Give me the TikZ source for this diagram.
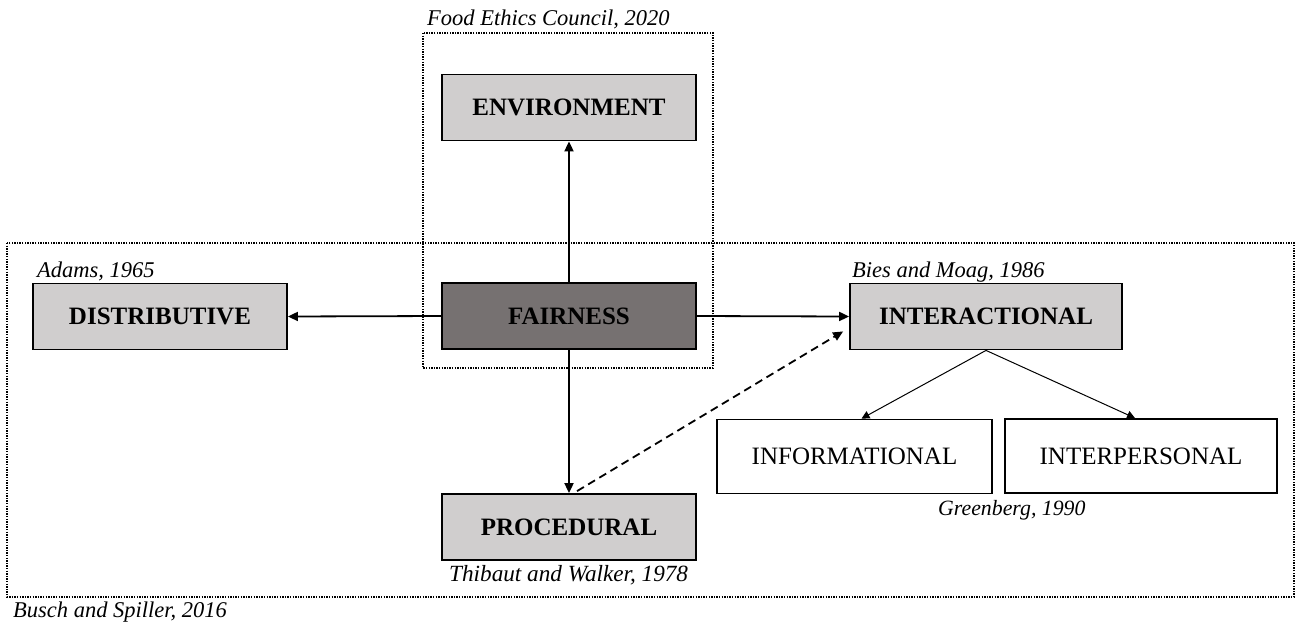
\documentclass[tikz,border=0pt]{standalone}
\usepackage{fontspec}
\setmainfont{Liberation Serif}
\usetikzlibrary{arrows.meta,calc}
\definecolor{lightbox}{HTML}{D0CECE}
\definecolor{darkbox}{HTML}{767171}
\tikzset{
  box/.style={draw=black, line width=1.8pt, minimum height=66pt, inner sep=0pt,
              font=\fontsize{25}{28}\selectfont\bfseries},
  greybox/.style={box, fill=lightbox, minimum width=254pt},
  subbox/.style={draw=black, line width=1.8pt, fill=white, minimum height=74pt,
                 inner sep=0pt, font=\fontsize{25}{28}\selectfont},
  cite/.style={inner sep=0pt, anchor=base west, font=\fontsize{22.5}{26}\selectfont\itshape},
  frame/.style={draw=black, line width=1.3pt, dash pattern=on 1.4pt off 1.2pt},
  mainarrow/.style={line width=1.8pt, -{Triangle[length=10pt,width=9pt]}},
  thinarrow/.style={line width=1pt, -{Triangle[length=8pt,width=8pt]}},
}
\begin{document}
\begin{tikzpicture}[x=1pt,y=-1pt]
\useasboundingbox (0,0) rectangle (1297,627);

% dotted frames grouping the dimensions
\draw[frame] (423,33) rectangle (713,368);
\draw[frame] (7,243) rectangle (1294,597);

% boxes
\node[greybox] (env)  at (569,107.5) {ENVIRONMENT};
\node[greybox, fill=darkbox] (fair) at (569,316) {FAIRNESS};
\node[greybox] (dist) at (160,316.5) {DISTRIBUTIVE};
\node[greybox, minimum width=272pt] (inter) at (986,316.5) {INTERACTIONAL};
\node[greybox] (proc) at (569,527) {PROCEDURAL};
\node[subbox, minimum width=275pt] (info) at (854.5,456.5) {INFORMATIONAL};
\node[subbox, minimum width=272pt] (pers) at (1141,456) {INTERPERSONAL};

% references
\node[cite] (c1) at (427,25) {Food Ethics Council, 2020};
\node[cite] (c2) at (37,277) {Adams, 1965};
\node[cite] (c3) at (852,277) {Bies and Moag, 1986};
\node[cite, font=\fontsize{23.2}{26}\selectfont\itshape] (c4) at (449,581) {Thibaut and Walker, 1978};
\node[cite, font=\fontsize{21.8}{26}\selectfont\itshape] (c5) at (938,515) {Greenberg, 1990};
\node[cite] (c6) at (13,617) {Busch and Spiller, 2016};

% connectors
\draw[mainarrow] (fair.north) -- (env.south);
\draw[mainarrow] (fair.west) -- (dist.east);
\draw[mainarrow] (fair.east) -- (inter.west);
\draw[mainarrow] (fair.south) -- (proc.north);
\coordinate (dstart) at ($(proc.north)+(8,-2)$);
\coordinate (dend) at ($(inter.south west)!0.28!(inter.north west)+(-6,0)$);
\draw[mainarrow, dash pattern=on 8pt off 5pt] (dstart) -- (dend);
\draw[thinarrow] (inter.south) -- ($(info.north)+(7,0)$);
\draw[thinarrow] (inter.south) -- ($(pers.north)+(-6,0)$);
\end{tikzpicture}
\end{document}
